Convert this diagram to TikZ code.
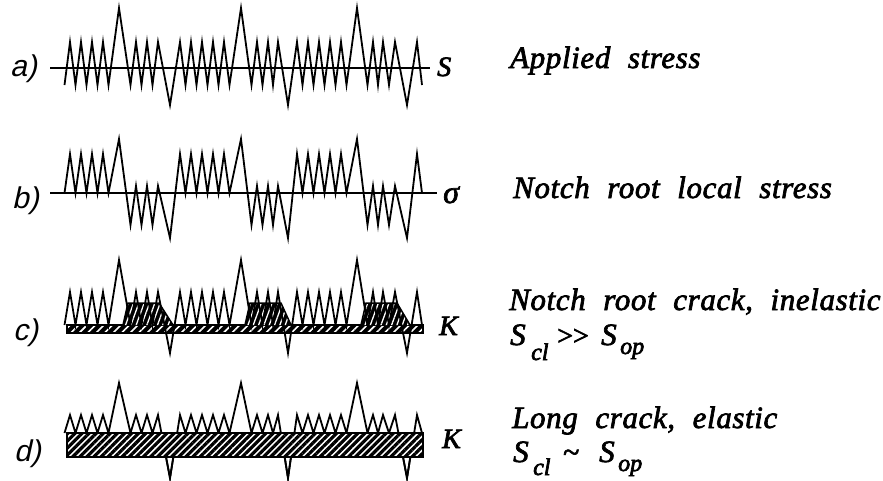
\documentclass[tikz,border=0pt]{standalone}
\usepackage{fontspec}
\setmainfont{Liberation Serif}
\newfontfamily\labfont[FakeSlant=0.22]{Liberation Sans}
\newfontfamily\txtfont[LetterSpace=2,WordSpace=2.1]{Liberation Serif}
\newfontfamily\symfont{Liberation Serif}
\usetikzlibrary{patterns.meta}
\newcommand\heavytxt[1]{\special{pdf:code q 2 Tr 0.7 w}#1\special{pdf:code Q}}

% #1 PA  #2 TA  #3 BP  #4 TB  #5 PB  #6 BT
\newcommand\wavepath[6]{%
(64.5,#2) -- (70,#1) -- (75.5,#2) -- (81,#1) -- (86.5,#2) -- (92,#1) -- (97.5,#2) -- (103,#1) -- (108.5,#2)
-- (119,#3) -- (130.5,#4) -- (136,#5) -- (141.5,#4) -- (147,#5) -- (152.5,#4) -- (158,#5) -- (170,#6)
-- (180,#1) -- (185.5,#2) -- (191,#1) -- (196.5,#2) -- (202,#1) -- (207.5,#2) -- (213,#1) -- (218.5,#2) -- (224,#1) -- (229.5,#2)
-- (241,#3) -- (251.5,#4) -- (257,#5) -- (262.5,#4) -- (268,#5) -- (273,#4) -- (278,#5) -- (288,#6)
-- (297,#1) -- (302.5,#2) -- (308,#1) -- (313.5,#2) -- (319,#1) -- (324.5,#2) -- (330,#1) -- (335.5,#2) -- (341,#1) -- (346.5,#2)
-- (357,#3) -- (367.5,#4) -- (373,#5) -- (378,#4) -- (383,#5) -- (389,#4) -- (395,#5) -- (407,#6)
-- (417,#1) -- (422,#2)}

\tikzset{
  wave/.style={line width=1.8pt, line join=miter, miter limit=20},
  axisline/.style={line width=1.8pt},
  rowlab/.style={anchor=base west, inner sep=0pt, font=\labfont\fontsize{30}{34}\selectfont},
  quant/.style={anchor=base west, inner sep=0pt, font=\symfont\itshape\fontsize{28}{32}\selectfont},
  desc/.style={anchor=base west, inner sep=0pt, font=\txtfont\itshape\fontsize{31}{36}\selectfont},
  subs/.style={anchor=base west, inner sep=0pt, font=\symfont\itshape\fontsize{24}{28}\selectfont},
  mainS/.style={anchor=base west, inner sep=0pt, font=\symfont\itshape\fontsize{31}{36}\selectfont},
}

\begin{document}
\begin{tikzpicture}[x=1pt,y=-1pt]
\useasboundingbox (0,0) rectangle (883,480);
\fill[white] (0,0) rectangle (883,480);

% ---------- row a ----------
\draw[axisline] (50,68) -- (430,68);
\draw[wave] \wavepath{42}{85}{8}{85}{42}{105};
\node[rowlab] (la) at (10,76) {a)};
\node[quant] (qa) at (437,76) {\heavytxt{S}};
\node[desc] (da) at (510,68) {\heavytxt{Applied stress}};

% ---------- row b ----------
\draw[axisline] (50,193) -- (437,193);
\draw[wave] \wavepath{154}{193}{139}{225}{186}{238};
\node[rowlab] (lb) at (12,208) {b)};
\node[quant, font=\symfont\itshape\fontsize{32}{36}\selectfont] (qb) at (443,203) {\heavytxt{σ}};
\node[desc] (db) at (513,198) {\heavytxt{Notch root local stress}};

% ---------- row c ----------
\fill[black] (67,325) rectangle (423,333);
\fill[pattern={Lines[angle=45,distance=6pt,line width=1.6pt]}, pattern color=white] (67,325) rectangle (423,333);
\draw[line width=1.2pt] (67,325) rectangle (423,333);
\foreach \bp/\bt in {119/170, 241/288, 357/407}{
  \fill[black] (\bp+4,325) -- (\bp+9,303) -- (\bp+40,303) -- (\bt+3,325) -- cycle;
  \fill[pattern={Lines[angle=70,distance=5pt,line width=1.3pt]}, pattern color=white]
     (\bp+4,325) -- (\bp+9,303) -- (\bp+40,303) -- (\bt+3,325) -- cycle;
  \draw[line width=1.5pt] (\bp+4,325) -- (\bp+9,303) -- (\bp+40,303) -- (\bt+3,325);
}
\draw[wave] \wavepath{292}{325}{260}{325}{292}{353};
\node[rowlab] (lc) at (13,340) {c)};
\node[quant] (qc) at (439,335) {\heavytxt{K}};
\node[desc] (dc) at (509,310) {\heavytxt{Notch root crack, inelastic}};
\node[mainS] (sc1) at (510,345) {\heavytxt{S}};
\node[subs] (cc1) at (531,360) {\heavytxt{cl}};
\node[anchor=base west, inner sep=0pt, font=\symfont\fontsize{28}{32}\selectfont] (gg) at (557,345) {\heavytxt{{>}{>}}};
\node[mainS] (sc2) at (601,345) {\heavytxt{S}};
\node[subs] (cc2) at (620,354) {\heavytxt{op}};

% ---------- row d ----------
\draw[wave] \wavepath{415}{433}{383}{433}{415}{478};
\fill[white] (67,433) rectangle (423,457);
\fill[pattern={Lines[angle=45,distance=5pt,line width=3.2pt]}, pattern color=black] (67,433) rectangle (423,457);
\draw[line width=2.4pt] (67,433) rectangle (423,457);
\begin{scope}
  \clip (0,457) rectangle (883,480);
  \draw[wave] \wavepath{415}{433}{383}{433}{415}{478};
\end{scope}
\node[rowlab] (ld) at (14,461) {d)};
\node[quant] (qd) at (442,448) {\heavytxt{K}};
\node[desc] (dd) at (512,428) {\heavytxt{Long crack, elastic}};
\node[mainS] (sd1) at (513,462) {\heavytxt{S}};
\node[subs] (cd1) at (533,475) {\heavytxt{cl}};
\node[anchor=base west, inner sep=0pt, font=\symfont\fontsize{30}{32}\selectfont] (tl) at (563,462) {\heavytxt{\textasciitilde}};
\node[mainS] (sd2) at (599,462) {\heavytxt{S}};
\node[subs] (cd2) at (618,471) {\heavytxt{op}};
\end{tikzpicture}
\end{document}
